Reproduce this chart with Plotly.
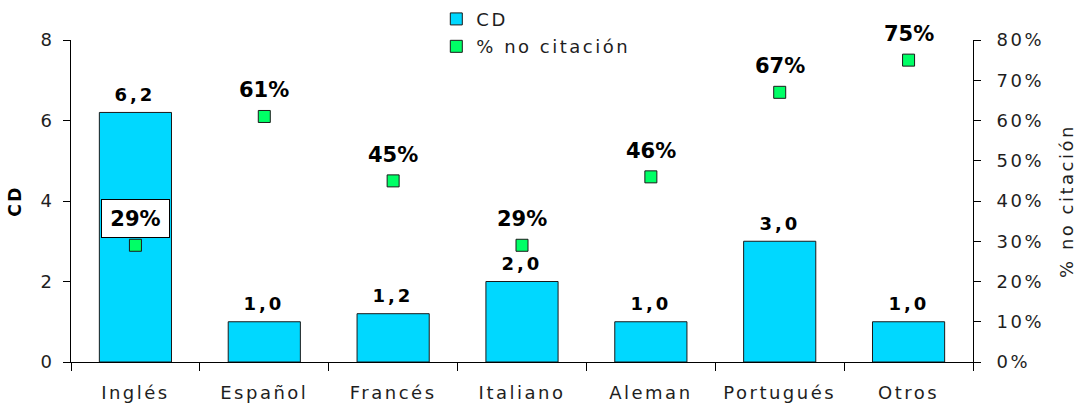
import plotly.graph_objects as go

# Language categories and their values
idiomas = ["Inglés", "Español", "Francés", "Italiano", "Aleman", "Portugués", "Otros"]
cd = [6.2, 1.0, 1.2, 2.0, 1.0, 3.0, 1.0]
no_citacion = [0.29, 0.61, 0.45, 0.29, 0.46, 0.67, 0.75]

cd_ticks = [0, 2, 4, 6, 8]
pct_ticks = [0, 0.1, 0.2, 0.3, 0.4, 0.5, 0.6, 0.7, 0.8]
pct_tick_text = [f"{round(v * 100)}%" for v in pct_ticks]

FONT = "DejaVu Sans"
TEXT = "#1e1e1e"
BAR_COLOR = "#00D8FF"
MARK_COLOR = "#00FF66"

fig = go.Figure()

fig.add_trace(go.Bar(
    x=idiomas, y=cd, name="CD", legendgroup="cd",
    marker=dict(color=BAR_COLOR, line=dict(color="#1a1a1a", width=1)),
    yaxis="y",
))

fig.add_trace(go.Scatter(
    x=idiomas, y=no_citacion, name="% no citación", legendgroup="pct",
    mode="markers",
    marker=dict(symbol="square", size=12, color=MARK_COLOR,
                line=dict(color="#1a1a1a", width=1)),
    yaxis="y2",
))

annotations = []
# value labels above the bars
for lang, v in zip(idiomas, cd):
    annotations.append(dict(
        x=lang, y=v, xref="x", yref="y",
        text=f"<b>{v:.1f}</b>".replace(".", ","),
        showarrow=False, yshift=18,
        font=dict(family=FONT, size=18, color="black"),
    ))
# percentage labels above the markers
for i, (lang, p) in enumerate(zip(idiomas, no_citacion)):
    boxed = i == 0
    ann = dict(
        x=lang, y=p, xref="x", yref="y2",
        text=f"<b>{round(p * 100)}%</b>",
        showarrow=False, yshift=27 if boxed else 26,
        font=dict(family=FONT, size=21, color="black"),
    )
    if boxed:
        ann.update(bgcolor="white", bordercolor="black", borderwidth=1,
                   borderpad=5, width=57, height=27)
    annotations.append(ann)

axis_font = dict(family=FONT, size=18, color=TEXT)

fig.update_layout(
    width=1077, height=410,
    margin=dict(l=71, r=104, t=40, b=48, autoexpand=False),
    plot_bgcolor="white", paper_bgcolor="white",
    font=dict(family=FONT, size=18, color=TEXT),
    bargap=0.44,
    showlegend=True,
    legend=dict(
        x=0.405, y=1.122, xanchor="left", yanchor="top",
        font=dict(family=FONT, size=18, color=TEXT),
        bgcolor="rgba(0,0,0,0)", tracegroupgap=1,
    ),
    xaxis=dict(
        type="category", showgrid=False, showline=True, linecolor="black",
        linewidth=1, ticks="outside", ticklen=8, tickson="boundaries",
        tickcolor="black", tickfont=axis_font, ticklabelstandoff=14,
    ),
    yaxis=dict(
        range=[0, 8], tickvals=cd_ticks, showgrid=False, zeroline=False,
        showline=True, linecolor="black", linewidth=1,
        ticks="outside", ticklen=7, tickcolor="black",
        tickfont=axis_font, ticklabelstandoff=5,
        title=dict(text="<b>CD</b>", font=dict(family=FONT, size=17, color="black"),
                   standoff=16),
    ),
    yaxis2=dict(
        range=[0, 0.8], tickvals=pct_ticks, ticktext=pct_tick_text,
        overlaying="y", side="right", showgrid=False, zeroline=False,
        showline=True, linecolor="black", linewidth=1,
        ticks="outside", ticklen=7, tickcolor="black",
        tickfont=axis_font, ticklabelstandoff=12,
        title=dict(text="% no citación", font=dict(family=FONT, size=18, color=TEXT),
                   standoff=24),
    ),
    # inner halves of the crossing tick marks
    yaxis3=dict(
        range=[0, 8], tickvals=cd_ticks, overlaying="y", side="left",
        showgrid=False, zeroline=False, showline=False, showticklabels=False,
        ticks="inside", ticklen=7, tickcolor="black",
    ),
    yaxis4=dict(
        range=[0, 0.8], tickvals=pct_ticks, overlaying="y", side="right",
        showgrid=False, zeroline=False, showline=False, showticklabels=False,
        ticks="inside", ticklen=7, tickcolor="black",
    ),
    xaxis2=dict(
        range=[-0.5, len(idiomas) - 0.5],
        tickvals=[i - 0.5 for i in range(len(idiomas) + 1)],
        overlaying="x", side="bottom", anchor="y",
        showgrid=False, zeroline=False, showline=False, showticklabels=False,
        ticks="inside", ticklen=7, tickcolor="black",
    ),
    annotations=annotations,
)

# wide tracking on axis labels, legend and the bar value labels
tracking_js = """
var gd = document.getElementById('{plot_id}');
function applyTracking() {
  gd.querySelectorAll('.xtick text, .ytick text, .y2tick text, .legendtext, .ytitle, .y2title')
    .forEach(function (t) { t.style.letterSpacing = '2.5px'; });
  gd.querySelectorAll('.annotation-text').forEach(function (t) {
    if (t.textContent.indexOf(',') >= 0) { t.style.letterSpacing = '3px'; }
  });
  // let the wider legend labels show in full
  gd.querySelectorAll('.legend .scrollbox').forEach(function (g) {
    g.removeAttribute('clip-path');
  });
}
applyTracking();
gd.on('plotly_afterplot', applyTracking);
"""

fig.write_html("out.html", post_script=tracking_js)
